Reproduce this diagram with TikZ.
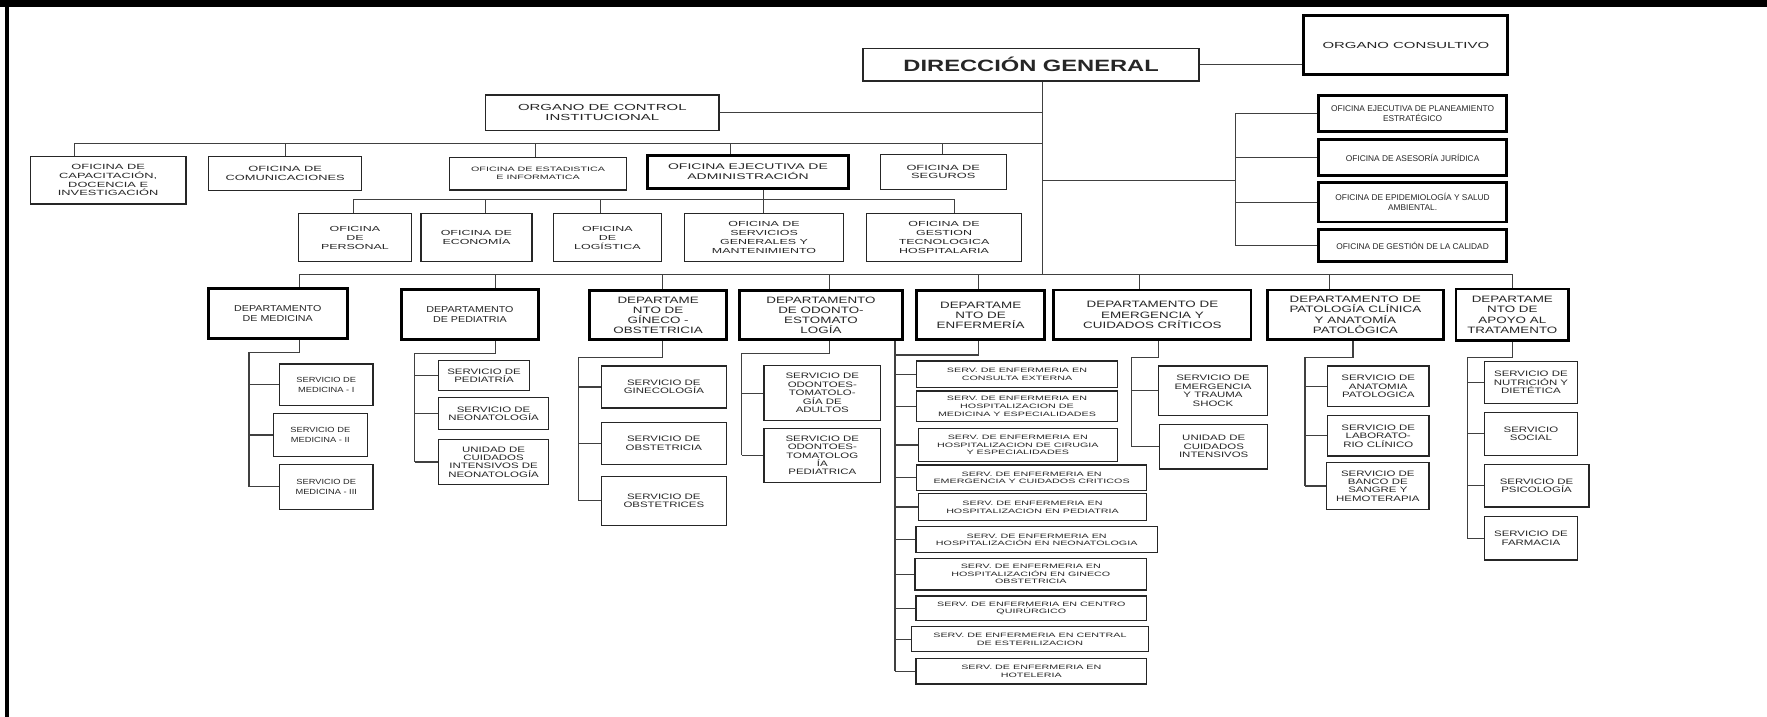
\documentclass[tikz,border=0pt]{standalone}
\usepackage{fontspec}
\newfontfamily\wide[FakeStretch=1.7]{Liberation Sans}
\newfontfamily\wideC[FakeStretch=1.45]{Liberation Sans}
\newfontfamily\wideB[FakeStretch=1.25]{Liberation Sans}
\newfontfamily\plain{Liberation Sans}

% box from its corners: [style]{name}{x1}{y1}{x2}{y2}{text}
\newcommand\orgbox[7][]{%
  \pgfmathsetmacro\orgcx{(#3+#5)/2}%
  \pgfmathsetmacro\orgcy{(#4+#6)/2}%
  \pgfmathsetmacro\orgw{#5-#3}%
  \pgfmathsetmacro\orgh{#6-#4}%
  \node[box,#1,minimum width=\orgw pt,minimum height=\orgh pt] (#2) at (\orgcx,\orgcy) {#7};%
}

\tikzset{
  box/.style={draw=black!85, line width=1.1pt, fill=white, align=center,
              inner sep=0.5pt, text=black!85},
  heavy/.style={line width=2.5pt, draw=black},
  conn/.style={draw=black!75, line width=1pt},
  ftop/.style={font=\wideC\bfseries\fontsize{14.5}{16}\selectfont},
  fcons/.style={font=\wide\fontsize{7.8}{9.4}\selectfont},
  fstaff/.style={font=\plain\fontsize{7.4}{9}\selectfont},
  foci/.style={font=\wide\fontsize{7.8}{9.4}\selectfont},
  fadm/.style={font=\wide\fontsize{7.3}{8.8}\selectfont},
  fdept/.style={font=\wideC\fontsize{8.2}{9.1}\selectfont},
  fdeptB/.style={font=\wideB\fontsize{7.6}{9}\selectfont},
  foff/.style={font=\wide\fontsize{6.7}{7.7}\selectfont},
  funit/.style={font=\wide\fontsize{6.5}{8}\selectfont},
  fsub/.style={font=\wideC\fontsize{7}{7.5}\selectfont},
  fsubB/.style={font=\wideB\fontsize{6.6}{8.2}\selectfont},
  fsmall/.style={font=\wide\fontsize{5.6}{6.7}\selectfont},
}

\begin{document}
\begin{tikzpicture}[x=1pt,y=-1pt]
\useasboundingbox (0,0) rectangle (1568,636);

% page frame: heavy top band and left rule
\fill[black] (0,0) rectangle (1568,6.5);
\fill[black] (4,0) rectangle (8,636);

% ---------- top management ----------
\orgbox[heavy,fcons]{oc}{1157}{14}{1338}{66}{ORGANO CONSULTIVO}
\orgbox[ftop,line width=1.4pt]{dg}{766}{43}{1064}{72}{DIRECCIÓN GENERAL}
\draw[conn] (dg.east) -- (dg.east -| oc.west);

\coordinate (trunk) at (925,243.4);
\draw[conn] (dg.south -| trunk) -- (trunk);

\orgbox[foci]{oci}{431}{84.3}{638}{115.5}{ORGANO DE CONTROL\\INSTITUCIONAL}
\draw[conn] (oci.east) -- (oci.east -| trunk);

% ---------- offices ----------
\orgbox[foff]{cap}{27}{139}{165}{181}{OFICINA DE\\CAPACITACIÓN,\\DOCENCIA E\\INVESTIGACIÓN}
\orgbox[foff]{com}{185}{139}{321}{169}{OFICINA DE\\COMUNICACIONES}
\orgbox[fsmall]{est}{399}{139.5}{556}{168.6}{OFICINA DE ESTADISTICA\\E INFORMATICA}
\orgbox[heavy,fadm]{adm}{574.5}{138}{753}{167.2}{OFICINA EJECUTIVA DE\\ADMINISTRACIÓN}
\orgbox[foff]{seg}{781}{137}{893}{168}{OFICINA DE\\SEGUROS}

\coordinate (bus2) at (925,127.5);
\coordinate (capx) at (66,0);
\coordinate (comx) at (253,0);
\coordinate (estx) at (475.4,0);
\coordinate (admx) at (648,0);
\coordinate (segx) at (836.4,0);
\draw[conn] (bus2) -- (bus2 -| capx);
\foreach \n in {cap,com,est,adm,seg}
  \draw[conn] (bus2 -| \n x) -- (\n.north -| \n x);

\orgbox[funit]{per}{265}{189.5}{365}{232.2}{OFICINA\\DE\\PERSONAL}
\orgbox[funit]{eco}{373.5}{189.5}{472}{232.2}{OFICINA DE\\ECONOMÍA}
\orgbox[funit]{log}{491}{189.5}{587}{232.2}{OFICINA\\DE\\LOGÍSTICA}
\orgbox[funit]{ser}{607.5}{189.5}{748.5}{232.2}{OFICINA DE\\SERVICIOS\\GENERALES Y\\MANTENIMIENTO}
\orgbox[funit]{ges}{769}{189.5}{906.5}{232.2}{OFICINA DE\\GESTION\\TECNOLOGICA\\HOSPITALARIA}

\coordinate (bus3) at (677.5,177);
\coordinate (perx) at (314,0);
\coordinate (ecox) at (430.7,0);
\coordinate (logx) at (533.1,0);
\coordinate (gesx) at (847.3,0);
\draw[conn] (adm.south -| bus3) -- (ser.north -| bus3);
\draw[conn] (bus3 -| perx) -- (bus3 -| gesx);
\foreach \n in {per,eco,log,ges}
  \draw[conn] (bus3 -| \n x) -- (\n.north -| \n x);

% ---------- staff offices on the right ----------
\orgbox[heavy,fstaff]{pla}{1170}{85}{1337}{117}{OFICINA EJECUTIVA DE PLANEAMIENTO\\ESTRATÉGICO}
\orgbox[heavy,fstaff]{ase}{1170}{124}{1337}{156}{OFICINA DE ASESORÍA JURÍDICA}
\orgbox[heavy,fstaff]{epi}{1170}{162}{1337}{197}{OFICINA DE EPIDEMIOLOGÍA Y SALUD\\AMBIENTAL.}
\orgbox[heavy,fstaff]{cal}{1170}{204}{1337}{232}{OFICINA DE GESTIÓN DE LA CALIDAD}

\coordinate (rbr) at (1096,160);
\draw[conn] (rbr -| trunk) -- (rbr);
\draw[conn] (rbr |- pla.west) -- (rbr |- cal.west);
\foreach \n in {pla,ase,epi,cal}
  \draw[conn] (rbr |- \n.west) -- (\n.west);

% ---------- departments ----------
\orgbox[heavy,fdeptB]{med}{185}{256}{308}{300.5}{DEPARTAMENTO\\DE MEDICINA}
\orgbox[heavy,fdeptB]{ped}{356}{257}{478}{301.5}{DEPARTAMENTO\\DE PEDIATRIA}
\orgbox[heavy,fdept]{gin}{523}{258}{645}{301.5}{DEPARTAME\\NTO DE\\GÍNECO -\\OBSTETRICIA}
\orgbox[heavy,fdept]{odo}{656}{258}{801}{301.5}{DEPARTAMENTO\\DE ODONTO-\\ESTOMATO\\LOGÍA}
\orgbox[heavy,fdept]{enf}{813.4}{258}{927}{301.5}{DEPARTAME\\NTO DE\\ENFERMERÍA}
\orgbox[heavy,fdept]{emg}{935.2}{257.3}{1110.1}{301.5}{DEPARTAMENTO DE\\EMERGENCIA Y\\CUIDADOS CRÍTICOS}
\orgbox[heavy,fdept]{pat}{1124.5}{257.3}{1281}{301.5}{DEPARTAMENTO DE\\PATOLOGÍA CLÍNICA\\Y ANATOMÍA\\PATOLÓGICA}
\orgbox[heavy,fdept]{apo}{1292}{256.5}{1392}{302.5}{DEPARTAME\\NTO DE\\APOYO AL\\TRATAMENTO}

% drop points from the department bus
\coordinate (medx) at (266,0);
\coordinate (pedx) at (440,0);
\coordinate (ginx) at (588,0);
\coordinate (odox) at (735.9,0);
\coordinate (enfx) at (868.1,0);
\coordinate (emgx) at (1011.4,0);
\coordinate (patx) at (1180,0);
\coordinate (apox) at (1342,0);
\draw[conn] (trunk -| medx) -- (trunk -| apox);
\foreach \n in {med,ped,gin,odo,enf,emg,pat,apo}
  \draw[conn] (trunk -| \n x) -- (\n.north -| \n x);

% ---------- services ----------
\orgbox[fsubB]{m1}{248}{323}{331}{360}{SERVICIO DE\\MEDICINA - I}
\orgbox[fsubB]{m2}{242.5}{367}{326}{405}{SERVICIO DE\\MEDICINA - II}
\orgbox[fsubB]{m3}{248}{412}{331}{452}{SERVICIO DE\\MEDICINA - III}
\coordinate (medbr) at (221,313);
\draw[conn] (med.south -| medx) |- (medbr) -- (medbr |- m3.west);
\foreach \n in {m1,m2,m3} \draw[conn] (medbr |- \n.west) -- (\n.west);

\orgbox[fsub]{p1}{389}{320}{470}{346.5}{SERVICIO DE\\PEDIATRÍA}
\orgbox[fsub]{p2}{389}{353}{487}{381}{SERVICIO DE\\NEONATOLOGÍA}
\orgbox[fsub]{p3}{389}{390}{487}{430}{UNIDAD DE\\CUIDADOS\\INTENSIVOS DE\\NEONATOLOGÍA}
\coordinate (pedbr) at (368,314);
\draw[conn] (ped.south -| pedx) |- (pedbr) -- (pedbr |- p3.west);
\foreach \n in {p1,p2,p3} \draw[conn] (pedbr |- \n.west) -- (\n.west);

\orgbox[fsub]{g1}{533.6}{324.8}{644.6}{362}{SERVICIO DE\\GINECOLOGÍA}
\orgbox[fsub]{g2}{533.6}{375}{644.6}{412}{SERVICIO DE\\OBSTETRICIA}
\orgbox[fsub]{g3}{533.6}{423}{644.6}{466}{SERVICIO DE\\OBSTETRICES}
\coordinate (ginbr) at (513,317.1);
\draw[conn] (gin.south -| ginx) |- (ginbr) -- (ginbr |- g3.west);
\foreach \n in {g1,g2,g3} \draw[conn] (ginbr |- \n.west) -- (\n.west);

\orgbox[fsub]{o1}{677.9}{324.5}{781.5}{373.3}{SERVICIO DE\\ODONTOES-\\TOMATOLO-\\GÍA DE\\ADULTOS}
\orgbox[fsub]{o2}{677.9}{380.1}{781.5}{428}{SERVICIO DE\\ODONTOES-\\TOMATOLOG\\ÍA\\PEDIATRICA}
\coordinate (odobr) at (658.1,313.6);
\draw[conn] (odo.south -| odox) |- (odobr) -- (odobr |- o2.west);
\foreach \n in {o1,o2} \draw[conn] (odobr |- \n.west) -- (\n.west);

\orgbox[fsmall]{e1}{813.4}{320.4}{991.5}{343.7}{SERV. DE ENFERMERIA EN\\CONSULTA EXTERNA}
\orgbox[fsmall]{e2}{813.4}{347}{991.5}{374.2}{SERV. DE ENFERMERIA EN\\HOSPITALIZACION DE\\MEDICINA Y ESPECIALIDADES}
\orgbox[fsmall]{e3}{814.9}{380.1}{991.5}{409.7}{SERV. DE ENFERMERIA EN\\HOSPITALIZACION DE CIRUGIA\\Y ESPECIALIDADES}
\orgbox[fsmall]{e4}{813.4}{412.7}{1017.5}{435.4}{SERV. DE ENFERMERIA EN\\EMERGENCIA Y CUIDADOS CRITICOS}
\orgbox[fsmall]{e5}{814.9}{437.8}{1017.5}{462.1}{SERV. DE ENFERMERIA EN\\HOSPITALIZACION EN PEDIATRIA}
\orgbox[fsmall]{e6}{812.8}{467.4}{1027}{490.5}{SERV. DE ENFERMERIA EN\\HOSPITALIZACIÓN EN NEONATOLOGIA}
\orgbox[fsmall]{e7}{812}{495.5}{1017.5}{523.6}{SERV. DE ENFERMERIA EN\\HOSPITALIZACIÓN EN GINECO\\OBSTETRICIA}
\orgbox[fsmall]{e8}{812.8}{528.9}{1017.5}{550.8}{SERV. DE ENFERMERIA EN CENTRO\\QUIRÚRGICO}
\orgbox[fsmall]{e9}{809}{556.1}{1019}{578.3}{SERV. DE ENFERMERIA EN CENTRAL\\DE ESTERILIZACION}
\orgbox[fsmall]{e10}{812.8}{584.2}{1017.5}{607}{SERV. DE ENFERMERIA EN\\HOTELERIA}
\coordinate (enfbr) at (794.2,315);
\draw[conn] (enf.south -| enfx) |- (enfbr);
\draw[conn] (enfbr |- enf.south) -- (enfbr |- e10.west);
\foreach \n in {e1,e2,e3,e4,e5,e6,e7,e8,e9,e10} \draw[conn] (enfbr |- \n.west) -- (\n.west);

\orgbox[fsub]{em1}{1027.8}{324.8}{1125}{368.9}{SERVICIO DE\\EMERGENCIA\\Y TRAUMA\\SHOCK}
\orgbox[fsub]{em2}{1029}{376.6}{1125}{416.2}{UNIDAD DE\\CUIDADOS\\INTENSIVOS}
\coordinate (emgdn) at (1027.8,0);
\coordinate (emgbr) at (1004,317.1);
\draw[conn] (emg.south -| emgdn) |- (emgbr) -- (emgbr |- em2.west);
\foreach \n in {em1,em2} \draw[conn] (emgbr |- \n.west) -- (\n.west);

\orgbox[fsub]{pa1}{1178}{324.8}{1268}{360.9}{SERVICIO DE\\ANATOMIA\\PATOLOGICA}
\orgbox[fsub]{pa2}{1178}{368.9}{1268}{404.7}{SERVICIO DE\\LABORATO-\\RIO CLÍNICO}
\orgbox[fsub]{pa3}{1177.3}{410.6}{1268}{452}{SERVICIO DE\\BANCO DE\\SANGRE Y\\HEMOTERAPIA}
\coordinate (patdn) at (1200.6,0);
\coordinate (patbr) at (1158,317.1);
\draw[conn] (pat.south -| patdn) |- (patbr) -- (patbr |- pa3.west);
\foreach \n in {pa1,pa2,pa3} \draw[conn] (patbr |- \n.west) -- (\n.west);

\orgbox[fsub]{a1}{1317}{321}{1400}{358}{SERVICIO DE\\NUTRICIÓN Y\\DIETÉTICA}
\orgbox[fsub]{a2}{1317}{366}{1400}{404}{SERVICIO\\SOCIAL}
\orgbox[fsub]{a3}{1317}{412}{1410}{450}{SERVICIO DE\\PSICOLOGÍA}
\orgbox[fsub]{a4}{1317}{458}{1400}{497}{SERVICIO DE\\FARMACIA}
\coordinate (apobr) at (1302,317.1);
\draw[conn] (apo.south -| apox) |- (apobr) -- (apobr |- a4.west);
\foreach \n in {a1,a2,a3,a4} \draw[conn] (apobr |- \n.west) -- (\n.west);

\end{tikzpicture}
\end{document}
